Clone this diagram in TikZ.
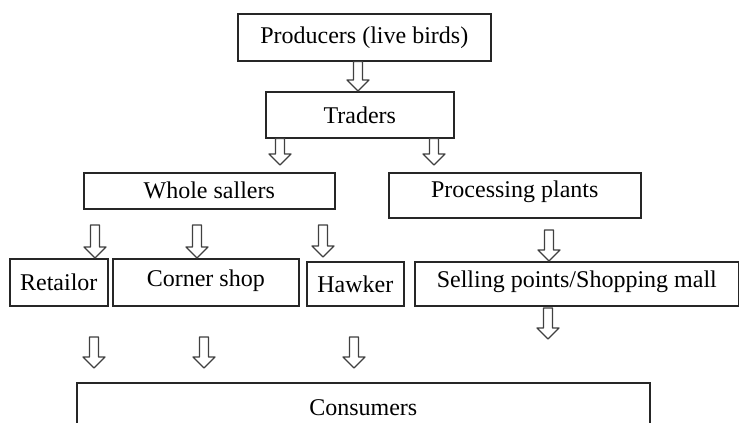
\documentclass[tikz,border=0pt]{standalone}
\usepackage{fontspec}
\setmainfont{Liberation Serif}
\usetikzlibrary{calc}
\begin{document}
\begin{tikzpicture}[x=1pt,y=-1pt,
  box/.style={draw=black!85,line width=1.6pt,rectangle,inner sep=0pt,anchor=north west,
    font=\fontsize{24}{28}\selectfont,text=black},
  blockarrow/.style={draw=black!75,line width=1.2pt,fill=white,line join=round,
    to path={let \p1=(\tikztostart), \p2=(\tikztotarget) in
      (\x1-4.5pt,\y1) -- (\x1-4.5pt,\y2+11pt) -- (\x1-11pt,\y2+11pt) -- (\x1,\y2)
      -- (\x1+11pt,\y2+11pt) -- (\x1+4.5pt,\y2+11pt) -- (\x1+4.5pt,\y1) -- cycle}}]
\fill[white] (0,0) rectangle (739,423);
\useasboundingbox (0,0) rectangle (739,423);

\node[box,minimum width=253pt,minimum height=47pt] (prod) at (237,13) {Producers (live birds)};
\node[box,minimum width=188pt,minimum height=46pt] (trad) at (265,91) {Traders};
\node[box,minimum width=251pt,minimum height=36pt] (whole) at (83,172) {Whole sallers};
\node[box,minimum width=252pt,minimum height=45pt,text depth=12pt] (proc) at (388,172) {Processing plants};
\node[box,minimum width=98pt,minimum height=47pt] (ret) at (9,258) {Retailor};
\node[box,minimum width=186pt,minimum height=47pt,text depth=9pt] (corner) at (112,258) {Corner shop};
\node[box,minimum width=97pt,minimum height=44pt] (hawk) at (306,261) {Hawker};
\node[box,minimum width=324pt,minimum height=44pt,text depth=10pt] (sell) at (414,261) {Selling points/Shopping mall};
\node[box,minimum width=573pt,minimum height=50pt] (cons) at (76,382) {Consumers};

\draw[blockarrow] (358,0 |- prod.south) to (358,0 |- trad.north);
\draw[blockarrow] (280,0 |- trad.south) to (280,165);
\draw[blockarrow] (434,0 |- trad.south) to (434,165);
\draw[blockarrow] (95,225) to (95,0 |- ret.north);
\draw[blockarrow] (197,225) to (197,0 |- corner.north);
\draw[blockarrow] (323,225) to (323,257);
\draw[blockarrow] (549,230) to (549,0 |- sell.north);
\draw[blockarrow] (548,308) to (548,339);
\draw[blockarrow] (94,337) to (94,368);
\draw[blockarrow] (204,337) to (204,368);
\draw[blockarrow] (354,337) to (354,368);
\end{tikzpicture}
\end{document}
